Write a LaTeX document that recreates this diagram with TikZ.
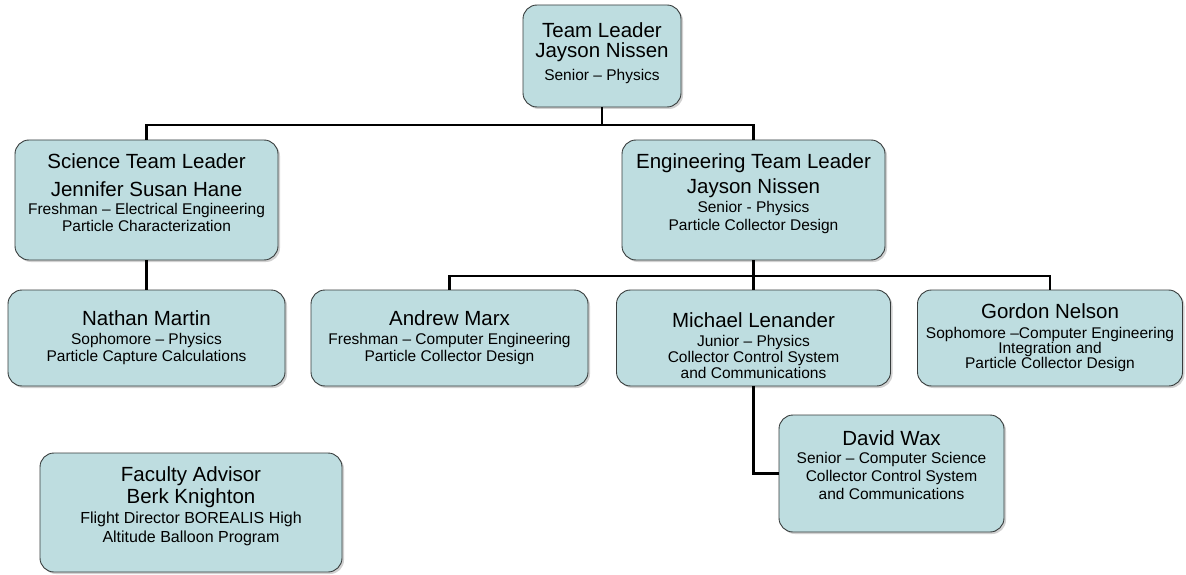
\documentclass[tikz,border=0pt]{standalone}
\usepackage{fontspec}
\setmainfont{Liberation Sans}
\usetikzlibrary{shadows}

\definecolor{boxfill}{RGB}{190,221,224}
\definecolor{boxline}{RGB}{55,60,60}
\newcommand{\nm}[1]{{\fontsize{20.5}{20}\selectfont #1}}
\newcommand{\memberfont}{\fontsize{15.5}{17}\selectfont\lineskiplimit=-100pt\relax}

\tikzset{
  member/.style={draw=boxline, line width=0.9pt, fill=boxfill, rounded corners=14pt,
    align=center, inner sep=0pt, font=\memberfont,
    drop shadow={shadow xshift=2pt, shadow yshift=-2pt, fill=black!30, opacity=0.6}},
  link/.style={line width=2.6pt, black}
}

\begin{document}
\begin{tikzpicture}[x=1pt, y=-1pt]
  \useasboundingbox (0,0) rectangle (1186,575);

  % Team leader
  \node[member, minimum width=158pt, minimum height=102pt, text depth=9pt] (lead) at (602,56)
    {\nm{Team Leader}\\[3pt]\nm{Jayson Nissen}\\[6pt]Senior – Physics};

  % Sub-team leaders
  \node[member, minimum width=263pt, minimum height=120pt, text depth=15pt] (sci) at (146.5,200)
    {\nm{Science Team Leader}\\[11pt]\nm{Jennifer Susan Hane}\\[1pt]Freshman – Electrical Engineering\\Particle Characterization};
  \node[member, minimum width=263pt, minimum height=120pt, text depth=15pt] (eng) at (753.5,200)
    {\nm{Engineering Team Leader}\\[8pt]\nm{Jayson Nissen}\\[2pt]Senior - Physics\\[1pt]Particle Collector Design};

  % Team members
  \node[member, minimum width=277pt, minimum height=96pt] (nathan) at (146.5,338)
    {\nm{Nathan Martin}\\[2pt]Sophomore – Physics\\Particle Capture Calculations};
  \node[member, minimum width=277pt, minimum height=96pt] (andrew) at (449.5,338)
    {\nm{Andrew Marx}\\[2pt]Freshman – Computer Engineering\\Particle Collector Design};
  \node[member, minimum width=274pt, minimum height=96pt, text height=81pt] (michael) at (753.5,338)
    {\nm{Michael Lenander}\\[2pt]Junior – Physics\\[-1pt]Collector Control System\\[-1pt]and Communications};
  \node[member, minimum width=265pt, minimum height=96pt] (gordon) at (1050,338)
    {\nm{Gordon Nelson}\\[3pt]Sophomore –Computer Engineering\\[-2pt]Integration and\\[-2pt]Particle Collector Design};
  \node[member, minimum width=225pt, minimum height=117pt, text depth=16pt] (david) at (891.5,473.5)
    {\nm{David Wax}\\[1pt]Senior – Computer Science\\[1pt]Collector Control System\\[1pt]and Communications};

  % Advisor
  \node[member, minimum width=302pt, minimum height=119pt, text depth=16.5pt] (faculty) at (191,512.5)
    {\nm{Faculty Advisor}\\[5pt]\nm{Berk Knighton}\\[3pt]{\fontsize{16}{17}\selectfont Flight Director BOREALIS High}\\[2pt]{\fontsize{16}{17}\selectfont Altitude Balloon Program}};

  % Connectors
  \coordinate (bus1) at (0,125);
  \coordinate (bus2) at (0,276);
  \draw[link] (lead.south) -- (lead.south |- bus1) -| (sci.north);
  \draw[link] (lead.south |- bus1) -| (eng.north);
  \draw[link] (sci.south) -- (nathan.north);
  \draw[link] (eng.south) -- (michael.north);
  \draw[link] (eng.south |- bus2) -| (andrew.north);
  \draw[link] (eng.south |- bus2) -| (gordon.north);
  \draw[link] (michael.south) |- (david.west);
\end{tikzpicture}
\end{document}
